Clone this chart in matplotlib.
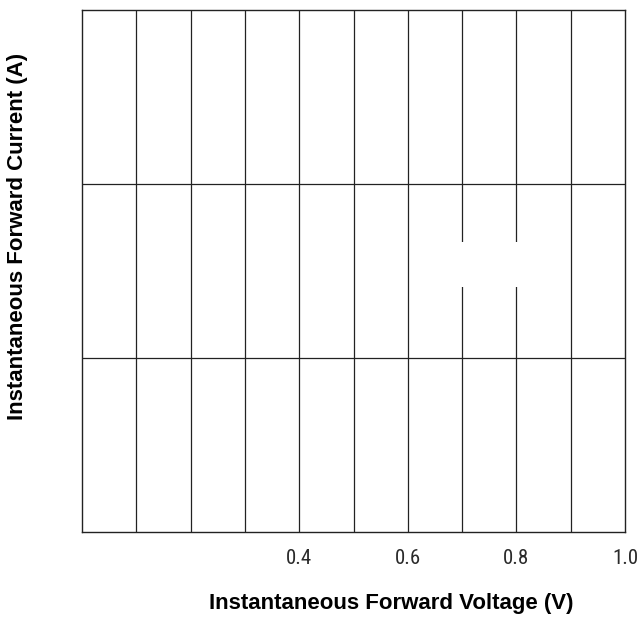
import matplotlib
matplotlib.use("Agg")
import matplotlib.pyplot as plt
from matplotlib.patches import Rectangle
from matplotlib.ticker import FixedLocator, NullLocator

# Data / axis definitions
x_limits = [0.0, 1.0]
y_limits = [0.1, 100.0]
x_grid = [0.1, 0.2, 0.3, 0.4, 0.5, 0.6, 0.7, 0.8, 0.9]
y_grid = [1.0, 10.0]
x_tick_values = [0.4, 0.6, 0.8, 1.0]
x_tick_labels = ["0.4", "0.6", "0.8", "1.0"]
x_label = "Instantaneous Forward Voltage (V)"
y_label = "Instantaneous Forward Current (A)"

W, H = 638, 617
fig = plt.figure(figsize=(W / 100, H / 100), dpi=100)
ax = fig.add_axes([82 / W, (H - 532) / H, 543 / W, 522 / H])
ax.set_xlim(*x_limits)
ax.set_yscale("log")
ax.set_ylim(*y_limits)

for xv in x_grid:
    ax.axvline(xv, color="#222222", lw=0.9, zorder=1)
for yv in y_grid:
    ax.axhline(yv, color="#222222", lw=0.9, zorder=1)

# empty white box hiding part of the grid
ax.add_patch(Rectangle(((455 - 82) / 543, (532 - 287) / 522), 75 / 543, 45 / 522,
                       transform=ax.transAxes, facecolor="white", edgecolor="none", zorder=2))

for s in ax.spines.values():
    s.set_color("#222222")
    s.set_linewidth(1.0)

ax.xaxis.set_major_locator(FixedLocator(x_tick_values))
ax.set_xticklabels(x_tick_labels, family=["Roboto Condensed", "DejaVu Sans"], fontweight="normal",
                   fontsize=15, color="#2a2a2a")
ax.xaxis.set_minor_locator(NullLocator())
ax.yaxis.set_major_locator(NullLocator())
ax.yaxis.set_minor_locator(NullLocator())
ax.tick_params(axis="x", length=0, pad=12)

fig.text(391 / W, 1 - 604 / H, x_label, ha="center", va="center",
         family="Liberation Sans", fontweight="bold", fontsize=16)
fig.text(17.5 / W, 1 - 236 / H, y_label, ha="center", va="center", rotation=90,
         family="Liberation Sans", fontweight="bold", fontsize=16)

fig.savefig("out.png", dpi=100)
